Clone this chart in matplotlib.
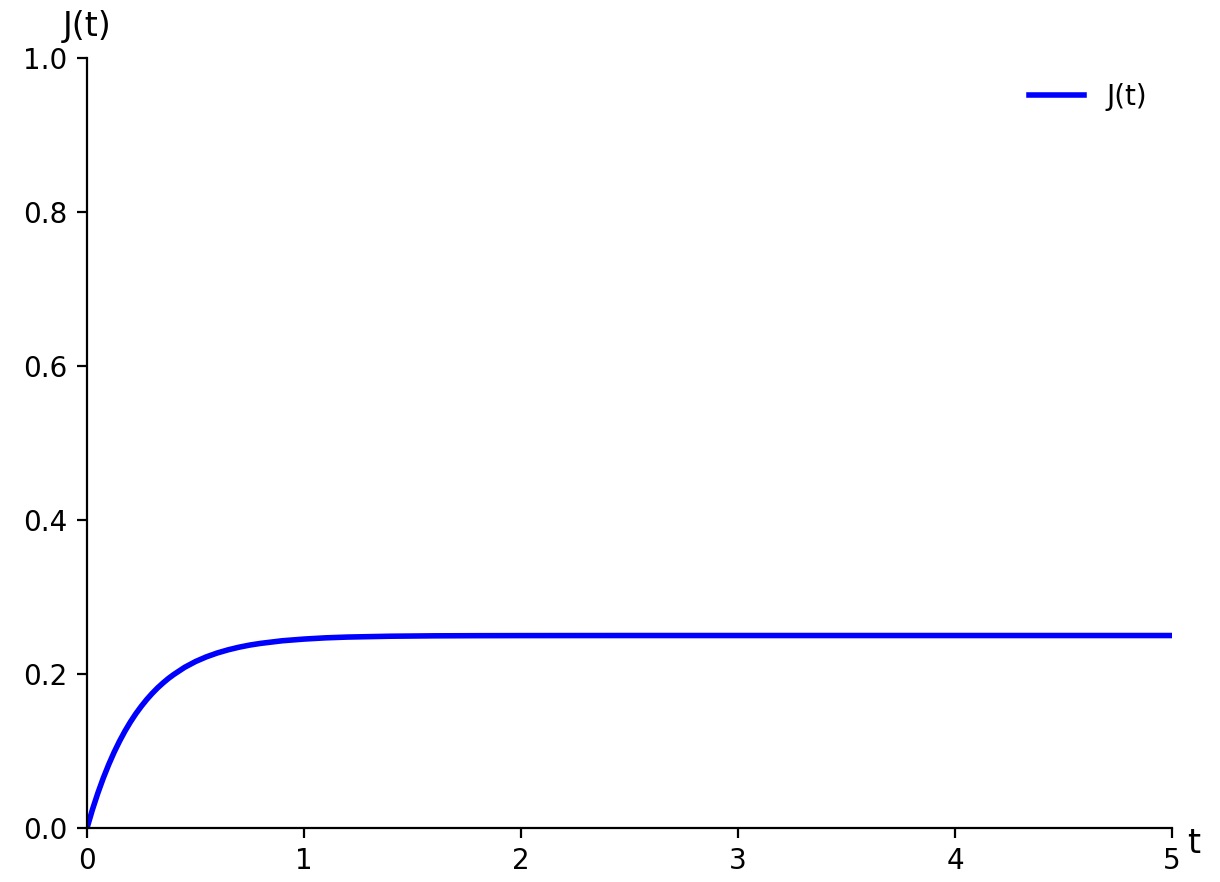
import matplotlib
matplotlib.use('Agg')
import matplotlib.pyplot as plt

# values
t = [0, 0.025, 0.05, 0.075, 0.1, 0.125, 0.15, 0.175, 0.2, 0.225, 0.25, 0.275,
     0.3, 0.325, 0.35, 0.375, 0.4, 0.45, 0.5, 0.55, 0.6, 0.65,
     0.7, 0.75, 0.8, 0.9, 1.0, 1.1, 1.2, 1.4, 1.6, 1.8, 2.0, 2.5, 3.0, 4.0, 5.0]
J = [0, 0.0238, 0.0453, 0.0648, 0.0824, 0.0984, 0.1128, 0.1259, 0.1377, 0.1484,
     0.1580, 0.1668, 0.1747, 0.1819, 0.1883, 0.1942, 0.1994, 0.2087,
     0.2162, 0.2223, 0.2273, 0.2314, 0.2348, 0.2376, 0.2398, 0.2432, 0.2454,
     0.2470, 0.2480, 0.2491, 0.2496, 0.2498, 0.2499, 0.2500, 0.2500, 0.2500, 0.2500]

fig = plt.figure(figsize=(6.1, 4.41), dpi=200)
ax = fig.add_axes([0.0713, 0.0612, 0.8894, 0.873])

ax.plot(t, J, color='blue', linewidth=2, label='J(t)')

ax.set_xlim(0, 5)
ax.set_ylim(0, 1.0)
ax.spines['top'].set_visible(False)
ax.spines['right'].set_visible(False)

ax.set_xlabel('t', fontsize=12)
ax.xaxis.set_label_coords(1.014, -0.02)
ax.xaxis.label.set_horizontalalignment('left')
ax.xaxis.label.set_verticalalignment('center')

ax.set_ylabel('J(t)', fontsize=12, rotation=0)
ax.yaxis.set_label_coords(0.0, 1.02)
ax.yaxis.label.set_horizontalalignment('center')
ax.yaxis.label.set_verticalalignment('bottom')

ax.legend(loc='upper right', frameon=False)

fig.savefig('out.png', dpi=200)
